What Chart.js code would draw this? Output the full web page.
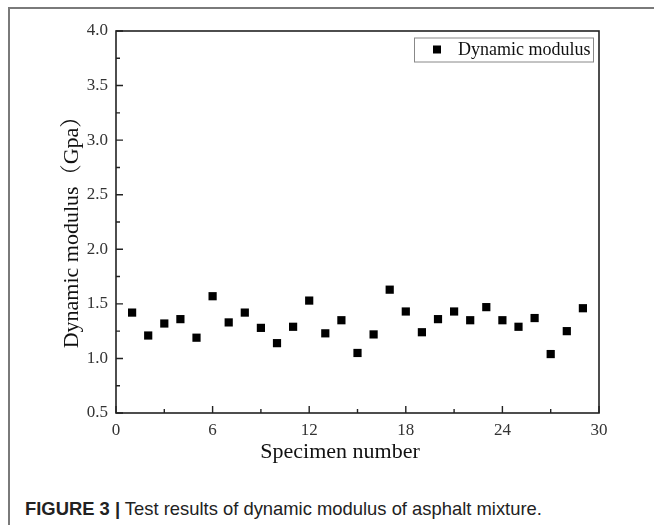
<!DOCTYPE html>
<html>
<head>
<meta charset="utf-8">
<script src="https://cdn.jsdelivr.net/npm/chart.js@4/dist/chart.umd.min.js"></script>
<style>
  html, body { margin: 0; padding: 0; background: #fff; width: 654px; height: 525px; overflow: hidden; }
  #frame { position: absolute; left: 8px; top: 7px; width: 700px; height: 600px;
           border-left: 2px solid #7a7a7a; border-top: 2px solid #7a7a7a; }
  #wrap { position: absolute; left: 0; top: 0; width: 654px; height: 470px; }
  #caption { position: absolute; left: 25px; top: 498px; font-family: 'Liberation Sans', Arial, sans-serif;
             font-size: 18.4px; color: #222; white-space: nowrap; line-height: 22px; }
  #caption b { font-weight: bold; }
</style>
</head>
<body>
<div id="frame"></div>
<div id="wrap"><canvas id="c" width="654" height="470"></canvas></div>
<div id="caption"><b>FIGURE 3 |</b> Test results of dynamic modulus of asphalt mixture.</div>
<script>
// ---- data ----
const specimens = [1,2,3,4,5,6,7,8,9,10,11,12,13,14,15,16,17,18,19,20,21,22,23,24,25,26,27,28,29];
const modulus = [1.42,1.21,1.32,1.36,1.19,1.57,1.33,1.42,1.28,1.14,1.29,1.53,1.23,1.35,1.05,1.22,1.63,1.43,1.24,1.36,1.43,1.35,1.47,1.35,1.29,1.37,1.04,1.25,1.46];
const seriesLabel = 'Dynamic modulus';
const xTicks = [0,6,12,18,24,30];
const xMinorTicks = [3,9,15,21,27];
const yTicks = [0.5,1.0,1.5,2.0,2.5,3.0,3.5,4.0];
const yMinorTicks = [0.75,1.25,1.75,2.25,2.75,3.25,3.75];
const xTitle = 'Specimen number';
const yTitle = 'Dynamic modulus（Gpa）';

const serif = "'Liberation Serif', 'Times New Roman', 'Noto Serif CJK SC', 'Noto Sans CJK SC', serif";

const decorPlugin = {
  id: 'decor',
  afterDraw(chart) {
    const ctx = chart.ctx;
    const a = chart.chartArea;
    const xs = chart.scales.x, ys = chart.scales.y;
    ctx.save();
    // frame
    ctx.strokeStyle = '#222';
    ctx.lineWidth = 1.6;
    ctx.strokeRect(a.left, a.top, a.right - a.left, a.bottom - a.top);
    // inward ticks
    ctx.lineWidth = 1.4;
    ctx.beginPath();
    xTicks.forEach(v => { const p = xs.getPixelForValue(v); ctx.moveTo(p, a.bottom); ctx.lineTo(p, a.bottom - 7); });
    xMinorTicks.forEach(v => { const p = xs.getPixelForValue(v); ctx.moveTo(p, a.bottom); ctx.lineTo(p, a.bottom - 4); });
    yTicks.forEach(v => { const p = ys.getPixelForValue(v); ctx.moveTo(a.left, p); ctx.lineTo(a.left + 7, p); });
    yMinorTicks.forEach(v => { const p = ys.getPixelForValue(v); ctx.moveTo(a.left, p); ctx.lineTo(a.left + 4, p); });
    ctx.stroke();
    // axis titles
    ctx.fillStyle = '#111';
    ctx.font = '22px ' + serif;
    ctx.textAlign = 'center';
    ctx.textBaseline = 'middle';
    ctx.fillText(xTitle, 340, 452);
    ctx.save();
    ctx.translate(72, 227);
    ctx.rotate(-Math.PI / 2);
    ctx.font = '22px ' + serif;
    ctx.fillText(yTitle, 0, 0);
    ctx.restore();
    // legend
    const lx = 414, ly = 37.5, lw = 179, lh = 24;
    ctx.strokeStyle = '#888';
    ctx.lineWidth = 1;
    ctx.strokeRect(lx + 0.5, ly + 0.5, lw, lh);
    ctx.fillStyle = '#000';
    ctx.fillRect(433, 45.5, 8, 8);
    ctx.fillStyle = '#111';
    ctx.font = '18px ' + serif;
    ctx.textAlign = 'left';
    ctx.textBaseline = 'middle';
    ctx.fillText(chart.data.datasets[0].label, 458, 50);
    ctx.restore();
  }
};

new Chart(document.getElementById('c'), {
  type: 'scatter',
  data: {
    datasets: [{
      label: seriesLabel,
      data: specimens.map((s, i) => ({ x: s, y: modulus[i] })),
      pointStyle: 'rect',
      pointRadius: 5.8,
      pointHoverRadius: 5.8,
      backgroundColor: '#000',
      borderColor: '#000',
      borderWidth: 0
    }]
  },
  options: {
    responsive: false,
    animation: false,
    events: [],
    layout: { padding: { left: 0, top: 31, right: 55, bottom: 0 } },
    plugins: { legend: { display: false }, tooltip: { enabled: false } },
    scales: {
      x: {
        type: 'linear', min: 0, max: 30,
        afterBuildTicks: s => { s.ticks = xTicks.map(v => ({ value: v })); },
        afterFit: s => { s.height = 57; },
        grid: { display: false, drawTicks: false },
        border: { display: false },
        ticks: { color: '#333', padding: 7, maxRotation: 0, autoSkip: false,
                 font: { family: serif, size: 17 }, callback: v => String(v) }
      },
      y: {
        type: 'linear', min: 0.5, max: 4.0,
        afterBuildTicks: s => { s.ticks = yTicks.map(v => ({ value: v })); },
        afterFit: s => { s.width = 116; },
        grid: { display: false, drawTicks: false },
        border: { display: false },
        ticks: { color: '#333', padding: 8, autoSkip: false,
                 font: { family: serif, size: 17 }, callback: v => Number(v).toFixed(1) }
      }
    }
  },
  plugins: [decorPlugin]
});
</script>
</body>
</html>
